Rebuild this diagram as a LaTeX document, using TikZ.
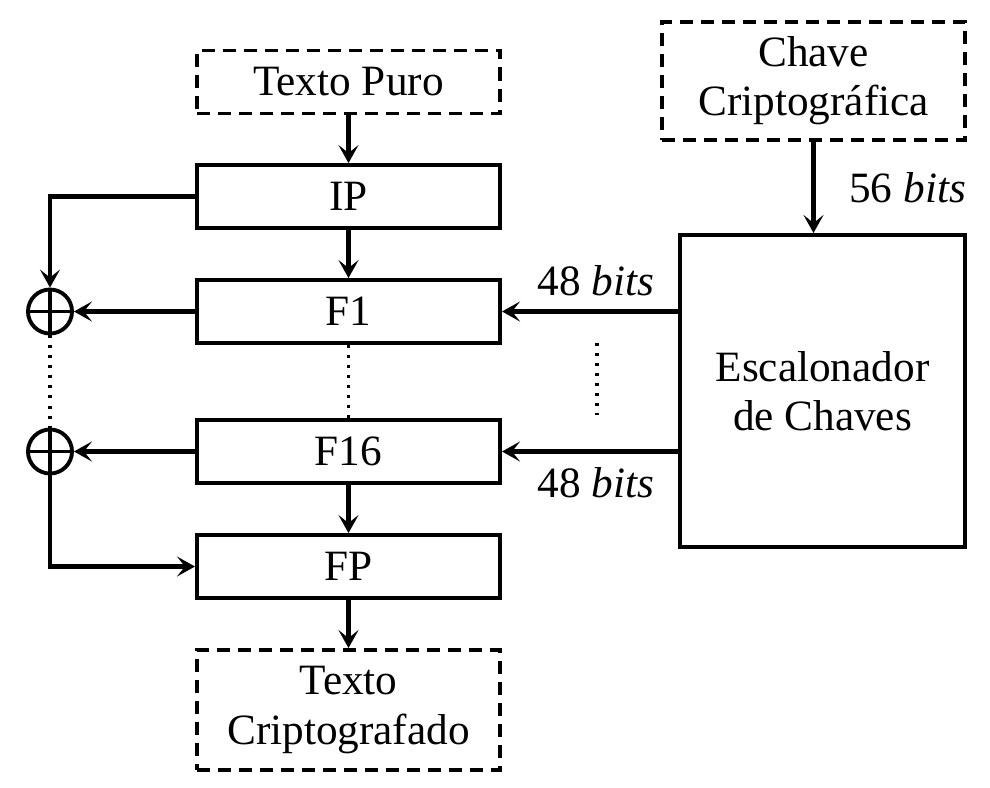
\documentclass[tikz,border=0pt]{standalone}
\usepackage{fontspec}
\setmainfont{Liberation Serif}
\usetikzlibrary{positioning, arrows.meta}

\tikzset{
    bloco/.style={draw, line width=1.1pt, minimum width=3.03cm, minimum height=0.63cm, inner sep=0pt, align=center},
    tracejado/.style={bloco, dash pattern=on 0.13cm off 0.08cm},
    seta/.style={line width=1.2pt, -{Stealth[length=0.18cm, width=0.2cm, inset=0.08cm]}},
    pontilhado/.style={line width=1.1pt, dash pattern=on 0.03cm off 0.07cm},
    xor/.style={draw, line width=1.1pt, circle, minimum size=0.44cm, inner sep=0pt}
}

\begin{document}
\begin{tikzpicture}[x=0.01cm, y=-0.01cm, font=\fontsize{12.3}{14}\selectfont]

    \useasboundingbox (0,0) rectangle (990,787);

    % Blocos da esquerda
    \node[tracejado] (puro) at (348.5, 82) {Texto Puro};
    \node[bloco] (ip) at (348.5, 196.5) {IP};
    \node[bloco] (f1) at (348.5, 311.5) {F1};
    \node[bloco] (f16) at (348.5, 451.5) {F16};
    \node[bloco] (fp) at (348.5, 566.5) {FP};
    \node[tracejado, minimum height=1.2cm] (cripto) at (348.5, 710) {Texto\\Criptografado};

    % Chave e escalonador
    \node[tracejado, minimum height=1.18cm] (chave) at (813.5, 81) {Chave\\Criptográfica};
    \node[bloco, minimum width=2.85cm, minimum height=3.12cm] (escal) at (822.5, 391) {Escalonador\\de Chaves};

    % XOR
    \node[xor] (x1) at (50, 311.5) {};
    \node[xor] (x16) at (50, 451.5) {};
    \draw[line width=1.1pt] (x1.north) -- (x1.south) (x1.west) -- (x1.east);
    \draw[line width=1.1pt] (x16.north) -- (x16.south) (x16.west) -- (x16.east);

    % Fluxo principal
    \draw[seta] (puro) -- (ip);
    \draw[seta] (ip) -- (f1);
    \draw[seta] (f16) -- (fp);
    \draw[seta] (fp) -- (cripto);
    \draw[pontilhado] (f1) -- (f16);

    % Ligacoes com os XOR
    \draw[seta] (ip.west) -| (x1.north);
    \draw[seta] (f1) -- (x1);
    \draw[seta] (f16) -- (x16);
    \draw[pontilhado] (x1) -- (x16);
    \draw[seta] (x16.south) |- (fp.west);

    % Subchaves
    \draw[seta] (chave.south) -- (chave.south |- escal.north)
        node[midway, right=0.22cm] {56 \textit{bits}};
    \draw[seta] (escal.west |- f1) -- (f1.east)
        node[pos=0.5, above=0.02cm, xshift=0.06cm] {48 \textit{bits}};
    \draw[seta] (escal.west |- f16) -- (f16.east)
        node[pos=0.5, below=0.02cm, xshift=0.06cm] {48 \textit{bits}};
    \coordinate (p1) at (597, 343);
    \coordinate (p2) at (597, 415);
    \draw[pontilhado] (p1) -- (p2);

\end{tikzpicture}
\end{document}
